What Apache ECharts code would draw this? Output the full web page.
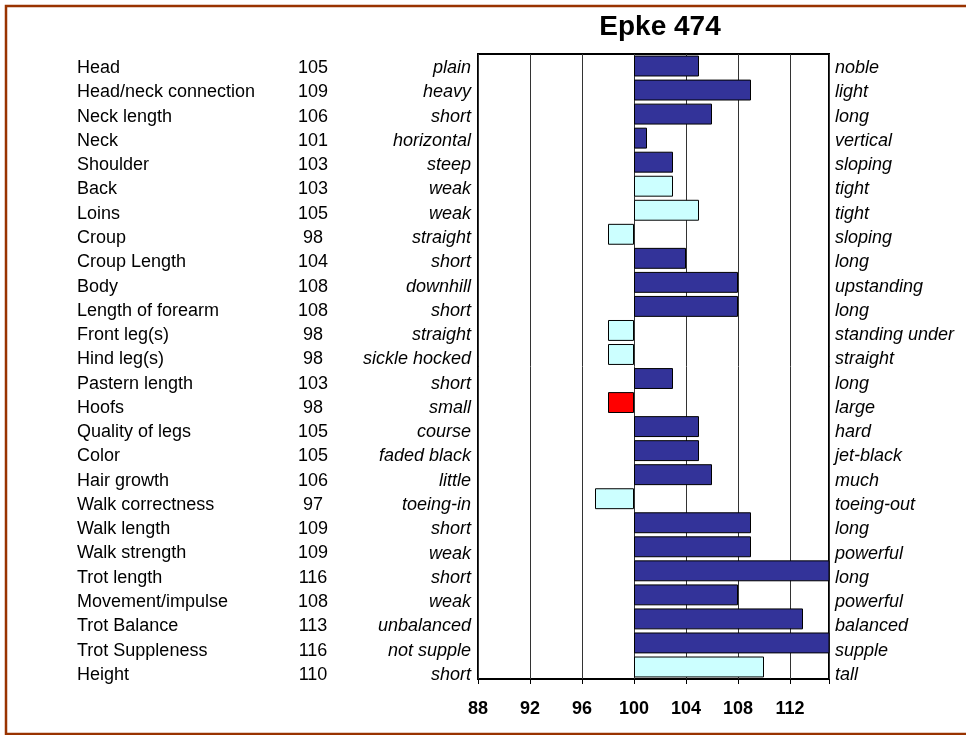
<!DOCTYPE html>
<html>
<head>
<meta charset="utf-8">
<title>Epke 474</title>
<script src="https://cdn.jsdelivr.net/npm/echarts@6/dist/echarts.min.js"></script>
<style>
    html, body { margin: 0; padding: 0; background: #fff; }
    #chart { width: 966px; height: 735px; }
</style>
</head>
<body>
<div id="chart"></div>
<script>
// 数据
const traits = [
    'Head', 'Head/neck connection', 'Neck length', 'Neck', 'Shoulder', 'Back', 'Loins',
    'Croup', 'Croup Length', 'Body', 'Length of forearm', 'Front leg(s)', 'Hind leg(s)',
    'Pastern length', 'Hoofs', 'Quality of legs', 'Color', 'Hair growth', 'Walk correctness',
    'Walk length', 'Walk strength', 'Trot length', 'Movement/impulse', 'Trot Balance',
    'Trot Suppleness', 'Height'
];
const scores = [
    105, 109, 106, 101, 103, 103, 105, 98, 104, 108, 108, 98, 98,
    103, 98, 105, 105, 106, 97, 109, 109, 116, 108, 113, 116, 110
];
const lowEnd = [
    'plain', 'heavy', 'short', 'horizontal', 'steep', 'weak', 'weak', 'straight', 'short',
    'downhill', 'short', 'straight', 'sickle hocked', 'short', 'small', 'course',
    'faded black', 'little', 'toeing-in', 'short', 'weak', 'short', 'weak', 'unbalanced',
    'not supple', 'short'
];
const highEnd = [
    'noble', 'light', 'long', 'vertical', 'sloping', 'tight', 'tight', 'sloping', 'long',
    'upstanding', 'long', 'standing under', 'straight', 'long', 'large', 'hard',
    'jet-black', 'much', 'toeing-out', 'long', 'powerful', 'long', 'powerful', 'balanced',
    'supple', 'tall'
];
// 分组: d = 深蓝, l = 浅色, r = 红色
const groups = [
    'd', 'd', 'd', 'd', 'd', 'l', 'l', 'l', 'd', 'd', 'd', 'l', 'l',
    'd', 'r', 'd', 'd', 'd', 'l', 'd', 'd', 'd', 'd', 'd', 'd', 'l'
];
const baseline = 100;

const groupColors = { d: '#333399', l: '#CCFFFF', r: '#FF0000' };
const font = '"Liberation Sans", Arial, Helvetica, sans-serif';

const chart = echarts.init(document.getElementById('chart'));

// 从基线 100 开始的条形: 透明底 + 差值
const baseData = scores.map(v => Math.min(v, baseline));
const deltaData = scores.map((v, i) => ({
    value: Math.abs(v - baseline),
    itemStyle: { color: groupColors[groups[i]] }
}));

function catAxis(extra) {
    return Object.assign({
        type: 'category',
        data: traits,
        inverse: true,
        axisLine: { show: false },
        axisTick: { show: false },
        splitLine: { show: false }
    }, extra);
}

function labelStyle(extra) {
    return Object.assign({
        interval: 0, fontFamily: font, fontSize: 18, color: '#000'
    }, extra);
}

const option = {
    backgroundColor: '#fff',
    animation: false,
    title: {
        text: 'Epke 474',
        left: 655,
        top: 8,
        textAlign: 'center',
        textStyle: { fontFamily: font, fontSize: 28, fontWeight: 'bold', color: '#000' }
    },
    grid: [
        {
            left: 478,
            right: 137,
            top: 54,
            bottom: 56,
            show: true,
            borderColor: '#000',
            borderWidth: 2,
            backgroundColor: 'transparent'
        },
        // 文字行的间距比条形略大
        { left: 478, right: 137, top: 56, bottom: 48 }
    ],
    xAxis: [
        {
            type: 'value',
            gridIndex: 0,
            min: 88,
            max: 115,
            interval: 4,
            axisLine: { show: false },
            axisTick: { show: true, length: 5, lineStyle: { color: '#000' } },
            splitLine: { show: true, lineStyle: { color: '#333', width: 1 } },
            axisLabel: {
                margin: 21,
                fontFamily: font,
                fontSize: 18,
                fontWeight: 'bold',
                color: '#000',
                formatter: v => (v % 4 === 0 ? String(v) : '')
            }
        },
        { type: 'value', gridIndex: 1, show: false }
    ],
    yAxis: [
        catAxis({ gridIndex: 0, axisLabel: { show: false } }),
        catAxis({
            gridIndex: 1,
            position: 'left',
            axisLabel: labelStyle({
                margin: 7, fontStyle: 'italic',
                formatter: (v, i) => lowEnd[i]
            })
        }),
        catAxis({
            gridIndex: 1,
            position: 'left',
            offset: 157,
            axisLabel: labelStyle({
                margin: 8, align: 'center',
                formatter: (v, i) => String(scores[i])
            })
        }),
        catAxis({
            gridIndex: 1,
            position: 'left',
            offset: 393,
            axisLabel: labelStyle({ margin: 8, align: 'left' })
        }),
        catAxis({
            gridIndex: 1,
            position: 'right',
            axisLabel: labelStyle({
                margin: 6, fontStyle: 'italic',
                formatter: (v, i) => highEnd[i]
            })
        })
    ],
    series: [
        {
            type: 'bar',
            stack: 'score',
            xAxisIndex: 0,
            yAxisIndex: 0,
            data: baseData,
            barCategoryGap: '13%',
            itemStyle: { color: 'transparent' },
            silent: true
        },
        {
            type: 'bar',
            stack: 'score',
            xAxisIndex: 0,
            yAxisIndex: 0,
            data: deltaData,
            barCategoryGap: '13%',
            itemStyle: { borderColor: '#000', borderWidth: 1 }
        }
    ],
    graphic: [{
        type: 'rect',
        shape: { x: 6, y: 6, width: 980, height: 728 },
        style: { fill: 'none', stroke: '#993300', lineWidth: 2.5 },
        silent: true
    }]
};

chart.setOption(option);

window.addEventListener('resize', () => {
    chart && chart.resize();
});
</script>
</body>
</html>
